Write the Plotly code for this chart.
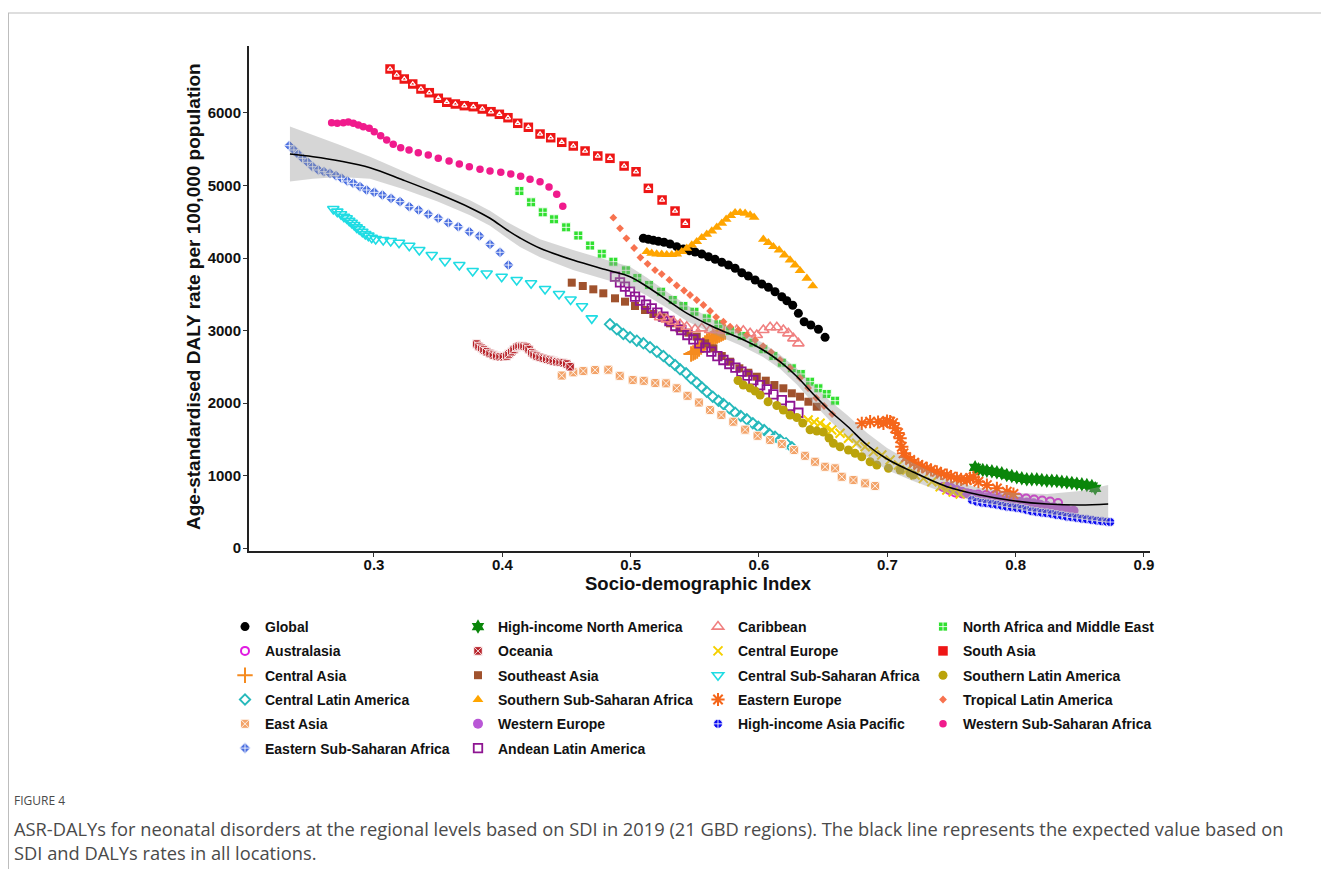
import plotly.graph_objects as go

# ---------------- data (SDI, ASR-DALYs per 100,000) ----------------
sdi_global = [0.5099,0.5138,0.5177,0.5216,0.5260,0.5307,0.5359,0.5411,0.5457,0.5502,0.5554,0.5606,0.5658,0.5710,0.5762,0.5814,0.5866,0.5917,0.5970,0.6022,0.6073,0.6125,0.6178,0.6217,0.6263,0.6307,0.6352,0.6404,0.6463,0.6515]
daly_global = [4272,4258,4244,4230,4217,4193,4156,4124,4101,4083,4055,4018,3982,3941,3903,3858,3797,3752,3697,3641,3596,3535,3466,3411,3348,3237,3121,3076,3017,2906]

sdi_australasia = [0.7435,0.7482,0.7528,0.7583,0.7645,0.7708,0.7770,0.7832,0.7895,0.7957,0.8020,0.8082,0.8144,0.8207,0.8269,0.8331]
daly_australasia = [841,800,766,752,745,738,731,724,717,710,697,683,669,655,641,621]

sdi_central_asia = [0.5471,0.5487,0.5502,0.5518,0.5533,0.5549,0.5564,0.5580,0.5595,0.5611,0.5627,0.5642,0.5658,0.5673,0.5689,0.5705,0.5720,0.5736]
daly_central_asia = [2676,2690,2703,2717,2745,2772,2800,2828,2855,2869,2883,2897,2910,2924,2938,2952,2966,2979]

sdi_central_latam = [0.4839,0.4892,0.4943,0.4995,0.5048,0.5099,0.5151,0.5204,0.5255,0.5302,0.5346,0.5385,0.5432,0.5471,0.5515,0.5554,0.5593,0.5640,0.5684,0.5723,0.5769,0.5814,0.5858,0.5905,0.5952,0.5995,0.6040,0.6081,0.6125,0.6164,0.6211,0.6256]
daly_central_latam = [3086,3017,2952,2906,2860,2823,2768,2708,2648,2584,2524,2465,2410,2341,2280,2217,2156,2087,2032,1986,1927,1866,1821,1775,1720,1673,1628,1572,1535,1490,1444,1389]

sdi_east_asia = [0.4463,0.4553,0.4631,0.4723,0.4826,0.4915,0.5016,0.5102,0.5192,0.5276,0.5359,0.5443,0.5532,0.5619,0.5707,0.5800,0.5892,0.5989,0.6087,0.6178,0.6274,0.6359,0.6437,0.6515,0.6593,0.6645,0.6736,0.6827,0.6905]
daly_east_asia = [2379,2423,2441,2455,2460,2375,2317,2306,2276,2271,2203,2099,2007,1903,1834,1742,1633,1548,1490,1434,1352,1272,1190,1121,1099,983,938,892,855]

sdi_e_ssa = [0.2340,0.2376,0.2410,0.2444,0.2483,0.2522,0.2566,0.2610,0.2657,0.2704,0.2748,0.2792,0.2839,0.2891,0.2943,0.3002,0.3065,0.3133,0.3203,0.3275,0.3348,0.3423,0.3501,0.3579,0.3657,0.3743,0.3821,0.3904,0.3982,0.4047]
daly_e_ssa = [5549,5490,5430,5375,5320,5259,5214,5190,5168,5135,5099,5062,5030,4983,4938,4906,4869,4823,4777,4708,4662,4603,4548,4487,4432,4363,4303,4189,4079,3903]

sdi_hi_na = [0.7684,0.7710,0.7744,0.7776,0.7815,0.7854,0.7892,0.7931,0.7970,0.8009,0.8048,0.8087,0.8126,0.8165,0.8204,0.8243,0.8282,0.8321,0.8360,0.8399,0.8438,0.8477,0.8516,0.8555,0.8594,0.8620]
daly_hi_na = [1113,1086,1076,1066,1058,1044,1030,1007,993,975,961,948,948,948,938,928,928,924,914,906,897,887,879,869,855,823]

sdi_oceania = [0.3800,0.3818,0.3839,0.3857,0.3878,0.3904,0.3930,0.3956,0.3982,0.4008,0.4034,0.4052,0.4073,0.4091,0.4112,0.4130,0.4151,0.4169,0.4190,0.4208,0.4229,0.4247,0.4268,0.4294,0.4320,0.4346,0.4372,0.4397,0.4424,0.4450,0.4475,0.4502,0.4528]
daly_oceania = [2814,2779,2754,2731,2708,2683,2662,2648,2639,2639,2648,2676,2708,2738,2768,2782,2786,2782,2768,2738,2694,2669,2648,2630,2616,2604,2593,2579,2570,2561,2556,2538,2501]

sdi_se_asia = [0.4541,0.4627,0.4709,0.4787,0.4878,0.4956,0.5034,0.5112,0.5177,0.5242,0.5307,0.5380,0.5450,0.5515,0.5580,0.5645,0.5710,0.5775,0.5847,0.5917,0.5983,0.6053,0.6120,0.6190,0.6256,0.6320,0.6385,0.6450]
daly_se_asia = [3660,3614,3568,3513,3444,3398,3338,3283,3228,3182,3099,3030,2970,2915,2823,2754,2648,2570,2479,2418,2363,2308,2248,2203,2134,2087,2018,1949]

sdi_s_ssa = [0.5126,0.5164,0.5203,0.5242,0.5281,0.5320,0.5359,0.5398,0.5437,0.5476,0.5515,0.5554,0.5593,0.5632,0.5671,0.5710,0.5744,0.5780,0.5814,0.5853,0.5892,0.5931,0.5962,0.6034,0.6073,0.6112,0.6157,0.6198,0.6242,0.6281,0.6320,0.6373,0.6419]
daly_s_ssa = [4087,4065,4055,4051,4046,4046,4055,4087,4134,4179,4225,4280,4327,4372,4423,4479,4534,4583,4625,4625,4617,4593,4561,4258,4211,4156,4110,4041,3972,3903,3825,3720,3614]

sdi_w_europe = [0.7464,0.7497,0.7542,0.7581,0.7620,0.7671,0.7723,0.7776,0.7827,0.7879,0.7931,0.7983,0.8035,0.8087,0.8139,0.8191,0.8243,0.8295,0.8347,0.8399,0.8451]
daly_w_europe = [846,828,800,777,754,735,717,701,686,673,662,651,639,628,617,597,579,563,548,531,514]

sdi_andean = [0.4878,0.4917,0.4956,0.4995,0.5034,0.5073,0.5120,0.5164,0.5208,0.5255,0.5302,0.5348,0.5395,0.5442,0.5489,0.5535,0.5582,0.5629,0.5676,0.5723,0.5769,0.5816,0.5863,0.5910,0.5956,0.6009,0.6061,0.6112,0.6178,0.6243,0.6307]
daly_andean = [3742,3665,3604,3535,3466,3411,3357,3306,3246,3191,3131,3062,3007,2938,2879,2823,2763,2708,2648,2593,2538,2487,2432,2377,2317,2248,2189,2120,2041,1959,1866]

sdi_caribbean = [0.5229,0.5281,0.5333,0.5385,0.5437,0.5502,0.5554,0.5619,0.5671,0.5723,0.5775,0.5827,0.5878,0.5931,0.5983,0.6034,0.6087,0.6139,0.6190,0.6229,0.6268,0.6307]
daly_caribbean = [3182,3154,3121,3086,3052,3017,3030,3007,3007,2993,3007,3007,2997,2961,2938,3007,3044,3044,3007,2961,2892,2823]

sdi_c_europe = [0.6383,0.6430,0.6476,0.6523,0.6567,0.6632,0.6697,0.6762,0.6827,0.6892,0.6957,0.7022,0.7087,0.7152,0.7217,0.7281,0.7347,0.7412,0.7464,0.7513,0.7568]
daly_c_europe = [1766,1738,1720,1669,1628,1582,1513,1444,1397,1328,1283,1214,1145,1076,1007,961,914,846,800,772,745]

sdi_c_ssa = [0.2683,0.2714,0.2743,0.2766,0.2787,0.2807,0.2826,0.2846,0.2865,0.2885,0.2909,0.2932,0.2956,0.2982,0.3013,0.3072,0.3130,0.3195,0.3275,0.3353,0.3450,0.3553,0.3665,0.3769,0.3878,0.3995,0.4112,0.4224,0.4333,0.4442,0.4532,0.4621,0.4697]
daly_c_ssa = [4676,4639,4603,4570,4548,4514,4487,4455,4423,4396,4363,4331,4308,4280,4262,4248,4234,4211,4170,4110,4041,3959,3903,3821,3786,3742,3697,3651,3572,3503,3428,3334,3168]

sdi_e_europe = [0.6801,0.6866,0.6928,0.6970,0.6998,0.7022,0.7045,0.7061,0.7084,0.7100,0.7113,0.7126,0.7147,0.7178,0.7209,0.7242,0.7271,0.7308,0.7341,0.7386,0.7419,0.7464,0.7497,0.7542,0.7575,0.7620,0.7645,0.7671,0.7710,0.7776,0.7854,0.7931,0.7983]
daly_e_europe = [1720,1742,1738,1720,1752,1742,1724,1651,1586,1513,1397,1306,1255,1214,1179,1145,1124,1099,1076,1052,1028,1007,986,961,948,938,966,975,914,869,823,777,745]

sdi_hi_ap = [0.7659,0.7698,0.7737,0.7776,0.7815,0.7854,0.7892,0.7931,0.7970,0.8009,0.8048,0.8087,0.8126,0.8165,0.8204,0.8243,0.8282,0.8321,0.8360,0.8399,0.8438,0.8477,0.8516,0.8555,0.8594,0.8633,0.8672,0.8711,0.8737]
daly_hi_ap = [662,639,625,617,607,597,583,570,561,552,542,524,506,497,487,479,469,455,446,432,423,414,404,396,386,377,368,363,359]

sdi_name = [0.4133,0.4224,0.4315,0.4403,0.4497,0.4592,0.4684,0.4775,0.4865,0.4963,0.5052,0.5143,0.5237,0.5328,0.5411,0.5497,0.5593,0.5684,0.5775,0.5866,0.5956,0.6034,0.6112,0.6178,0.6256,0.6326,0.6398,0.6463,0.6528,0.6593]
daly_name = [4924,4768,4630,4534,4423,4310,4172,4059,3949,3830,3724,3628,3535,3421,3338,3259,3168,3086,2993,2924,2832,2741,2648,2556,2479,2400,2294,2203,2124,2032]

sdi_south_asia = [0.3125,0.3177,0.3236,0.3302,0.3366,0.3431,0.3501,0.3567,0.3634,0.3704,0.3774,0.3844,0.3912,0.3977,0.4044,0.4120,0.4203,0.4294,0.4377,0.4463,0.4553,0.4645,0.4744,0.4839,0.4949,0.5042,0.5138,0.5245,0.5346,0.5426]
daly_south_asia = [6607,6524,6469,6400,6331,6280,6203,6148,6124,6101,6087,6055,6018,5982,5935,5858,5803,5710,5659,5596,5545,5476,5407,5375,5269,5190,4961,4800,4648,4479]

sdi_s_latam = [0.5837,0.5878,0.5931,0.5970,0.6009,0.6071,0.6139,0.6190,0.6242,0.6295,0.6341,0.6398,0.6451,0.6502,0.6546,0.6580,0.6632,0.6697,0.6749,0.6801,0.6866,0.6918,0.7009,0.7100,0.7178,0.7203]
daly_s_latam = [2310,2248,2207,2166,2110,2018,1966,1903,1834,1800,1724,1632,1614,1600,1517,1444,1397,1352,1306,1259,1190,1145,1099,1076,1030,1007]

sdi_trop_latam = [0.4865,0.4917,0.4967,0.5027,0.5076,0.5132,0.5190,0.5242,0.5302,0.5359,0.5416,0.5463,0.5515,0.5567,0.5619,0.5666,0.5723,0.5775,0.5839,0.5905,0.5970,0.6032,0.6094,0.6164,0.6242,0.6320,0.6383,0.6445,0.6507,0.6570]
daly_trop_latam = [4556,4410,4272,4138,4007,3920,3834,3779,3697,3621,3552,3490,3421,3352,3269,3186,3121,3052,3007,2938,2869,2786,2703,2593,2483,2345,2207,2069,1959,1848]

sdi_w_ssa = [0.2670,0.2714,0.2761,0.2800,0.2839,0.2878,0.2917,0.2963,0.3002,0.3052,0.3099,0.3150,0.3208,0.3273,0.3345,0.3423,0.3501,0.3585,0.3665,0.3743,0.3826,0.3904,0.3988,0.4066,0.4143,0.4216,0.4294,0.4364,0.4424,0.4471]
daly_w_ssa = [5866,5858,5866,5876,5858,5834,5811,5789,5742,5687,5628,5568,5522,5490,5452,5421,5375,5338,5297,5260,5223,5200,5182,5159,5127,5086,5053,4979,4879,4714]

# expected-value smoother with its confidence band
fit_sdi = [0.2345,0.2525,0.2735,0.2969,0.3226,0.3491,0.3748,0.3904,0.4037,0.4138,0.4294,0.4551,0.4816,0.4995,0.5128,0.5284,0.5440,0.5642,0.5853,0.6032,0.6164,0.6297,0.6422,0.6554,0.6687,0.6843,0.6998,0.7201,0.7466,0.7723,0.7981,0.8246,0.8503,0.8721]
fit_daly = [5434,5397,5338,5246,5076,4892,4694,4548,4386,4276,4134,3972,3834,3742,3604,3421,3237,3052,2892,2731,2570,2363,2124,1890,1683,1421,1228,1048,846,731,652,607,593,607]
fit_lo = [5055,5094,5117,5094,4952,4782,4591,4445,4276,4152,4010,3834,3696,3604,3480,3311,3127,2955,2795,2634,2473,2253,2000,1752,1531,1255,1076,924,749,634,542,469,400,345]
fit_hi = [5813,5700,5559,5398,5200,5002,4797,4651,4496,4400,4258,4110,3972,3880,3728,3531,3347,3149,2989,2828,2667,2473,2248,2028,1835,1587,1380,1172,943,828,762,745,786,869]

x_ticks = [0.3, 0.4, 0.5, 0.6, 0.7, 0.8, 0.9]
y_ticks = [0, 1000, 2000, 3000, 4000, 5000, 6000]

# ---------------- series table: name, data, style, legend column ----------------
series = [
    ("Global", sdi_global, daly_global, "circle", "#000000", 9, 0, "legend"),
    ("Australasia", sdi_australasia, daly_australasia, "circle-open", "#E01BE0", 8, 2, "legend"),
    ("Central Asia", sdi_central_asia, daly_central_asia, "cross-thin-open", "#F58B1F", 11, 2, "legend"),
    ("Central Latin America", sdi_central_latam, daly_central_latam, "diamond-open", "#26B9BB", 8, 1.8, "legend"),
    ("East Asia", sdi_east_asia, daly_east_asia, "square-x", "#F3A46A", 9, 1, "legend"),
    ("Eastern Sub-Saharan Africa", sdi_e_ssa, daly_e_ssa, "diamond-cross", "#4B6FE0", 8.5, 1, "legend"),
    ("High-income North America", sdi_hi_na, daly_hi_na, "hexagram", "#0A860A", 11, 0, "legend2"),
    ("Oceania", sdi_oceania, daly_oceania, "square-x", "#B8232A", 8.5, 1, "legend2"),
    ("Southeast Asia", sdi_se_asia, daly_se_asia, "square", "#A0522D", 8, 0, "legend2"),
    ("Southern Sub-Saharan Africa", sdi_s_ssa, daly_s_ssa, "triangle-up", "#FFA500", 9.5, 0, "legend2"),
    ("Western Europe", sdi_w_europe, daly_w_europe, "circle", "#B957D6", 10, 0, "legend2"),
    ("Andean Latin America", sdi_andean, daly_andean, "square-open", "#8E1592", 8.5, 1.8, "legend2"),
    ("Caribbean", sdi_caribbean, daly_caribbean, "triangle-up-open", "#F08080", 10, 1.6, "legend3"),
    ("Central Europe", sdi_c_europe, daly_c_europe, "x-thin-open", "#F5D000", 9, 2, "legend3"),
    ("Central Sub-Saharan Africa", sdi_c_ssa, daly_c_ssa, "triangle-down-open", "#1FDCE3", 10, 1.6, "legend3"),
    ("Eastern Europe", sdi_e_europe, daly_e_europe, "asterisk-open", "#F5661A", 11, 2, "legend3"),
    ("High-income Asia Pacific", sdi_hi_ap, daly_hi_ap, "circle-cross", "#0A0AF0", 9, 1, "legend3"),
    ("North Africa and Middle East", sdi_name, daly_name, "square-cross", "#30E030", 9, 1, "legend4"),
    ("South Asia", sdi_south_asia, daly_south_asia, "square", "#EE1616", 9.5, 0, "legend4"),
    ("Southern Latin America", sdi_s_latam, daly_s_latam, "circle", "#BBA30B", 9, 0, "legend4"),
    ("Tropical Latin America", sdi_trop_latam, daly_trop_latam, "diamond", "#F7724F", 6, 0, "legend4"),
    ("Western Sub-Saharan Africa", sdi_w_ssa, daly_w_ssa, "circle", "#F01B8C", 7.5, 0, "legend4"),
]

fig = go.Figure()

for name, xs, ys, sym, col, size, lw, leg in series:
    open_sym = sym.endswith("-open")
    patterned = sym in ("square-x", "diamond-cross", "circle-cross", "square-cross")
    if open_sym:
        marker = dict(symbol=sym, color=col, size=size, line=dict(color=col, width=lw))
    elif patterned:
        marker = dict(symbol=sym, color=col, size=size, line=dict(color="rgba(255,255,255,0.85)", width=lw))
    else:
        marker = dict(symbol=sym, color=col, size=size, line=dict(width=0))
    fig.add_trace(go.Scatter(x=xs, y=ys, mode="markers", name=name, marker=marker,
                             legend=leg, legendgroup=name, hoverinfo="skip"))
    if name == "South Asia":
        fig.add_trace(go.Scatter(x=xs, y=ys, mode="markers", showlegend=False, hoverinfo="skip",
                                 marker=dict(symbol="triangle-up-open", size=4.5, color="white",
                                             line=dict(color="white", width=1.2))))

# confidence band and smoother drawn on top
fig.add_trace(go.Scatter(x=fit_sdi + fit_sdi[::-1], y=fit_hi + fit_lo[::-1], fill="toself",
                         fillcolor="rgba(153,153,153,0.4)", line=dict(width=0), mode="lines",
                         showlegend=False, hoverinfo="skip"))
fig.add_trace(go.Scatter(x=fit_sdi, y=fit_daly, mode="lines", line=dict(color="black", width=1.6, shape="spline"),
                         showlegend=False, hoverinfo="skip"))

# ---------------- layout (positions given in page pixels; page body has an 8px margin) ----------------
OFF = 8
W, H = 1329 - 2 * OFF, 877 - 2 * OFF
L, R, T, B = 249 - OFF, 1150 - OFF, 46 - OFF, 551 - OFF

def px_x(px):
    return (px - OFF - L) / (R - L)

def px_y(py):
    return (B - (py - OFF)) / (B - T)

bold = dict(family="Liberation Sans, Arial, sans-serif", color="#111111", weight="bold")

legend_common = dict(orientation="v", xref="container", yref="container", xanchor="left", yanchor="top",
                     bgcolor="rgba(0,0,0,0)", borderwidth=0, tracegroupgap=3.1, itemwidth=30,
                     font=dict(size=14, **bold), itemclick=False, itemdoubleclick=False)
legend_text_starts = [265, 498, 738, 963]   # page px of the first letter in each column
legend_top = 611                             # page px

layout_legends = {}
for i, key in enumerate(["legend", "legend2", "legend3", "legend4"]):
    d = dict(legend_common)
    d["x"] = (legend_text_starts[i] - OFF - 40) / W
    d["y"] = 1 - (legend_top - OFF) / H
    layout_legends[key] = d

fig.update_layout(
    width=W, height=H,
    margin=dict(l=L, r=W - R, t=T, b=H - B, autoexpand=False),
    paper_bgcolor="white", plot_bgcolor="white",
    showlegend=True,
    xaxis=dict(range=[0.2026, 0.9047], tickvals=x_ticks, ticktext=[f"{v:.1f}" for v in x_ticks],
               showgrid=False, zeroline=False, showline=True, linecolor="#222222", linewidth=2,
               ticks="outside", ticklen=4, tickwidth=1.2, tickcolor="#333333", ticklabelstandoff=-5,
               tickfont=dict(size=15, **bold), automargin=False),
    yaxis=dict(range=[-41, 6924], tickvals=y_ticks, ticktext=[str(v) for v in y_ticks],
               showgrid=False, zeroline=False, showline=True, linecolor="#222222", linewidth=2,
               ticks="outside", ticklen=4, tickwidth=1.2, tickcolor="#333333", ticklabelstandoff=-1,
               tickfont=dict(size=15, **bold), automargin=False),
    **layout_legends,
)

# axis titles
fig.add_annotation(xref="paper", yref="paper", x=px_x(698), y=px_y(583), xanchor="center", yanchor="middle",
                   text="Socio-demographic Index", showarrow=False, font=dict(size=18.5, **bold))
fig.add_annotation(xref="paper", yref="paper", x=px_x(193), y=px_y(297), xanchor="center", yanchor="middle",
                   text="Age-standardised DALY rate per 100,000 population", textangle=-90,
                   showarrow=False, font=dict(size=19, **bold))

# page frame lines
fig.add_shape(type="line", xref="paper", yref="paper", x0=px_x(OFF), x1=px_x(W + OFF), y0=px_y(13), y1=px_y(13),
              line=dict(color="#BDBDBD", width=1))
fig.add_shape(type="line", xref="paper", yref="paper", x0=px_x(OFF + 0.5), x1=px_x(OFF + 0.5), y0=px_y(13), y1=px_y(H + OFF),
              line=dict(color="#BDBDBD", width=1))

caption_font = dict(family="Open Sans, Noto Sans, sans-serif", color="#4a4a4a")
fig.add_annotation(xref="paper", yref="paper", x=px_x(12), y=px_y(800), xanchor="left", yanchor="middle",
                   text="FIGURE 4", showarrow=False, font=dict(size=12, **caption_font))
fig.add_annotation(xref="paper", yref="paper", x=px_x(12), y=px_y(814), xanchor="left", yanchor="top",
                   align="left",
                   text="ASR-DALYs for neonatal disorders at the regional levels based on SDI in 2019 (21 GBD regions). "
                        "The black line represents the expected value based on<br>SDI and DALYs rates in all locations.",
                   showarrow=False, font=dict(size=18.3, **caption_font))

fig.write_html("out.html")
